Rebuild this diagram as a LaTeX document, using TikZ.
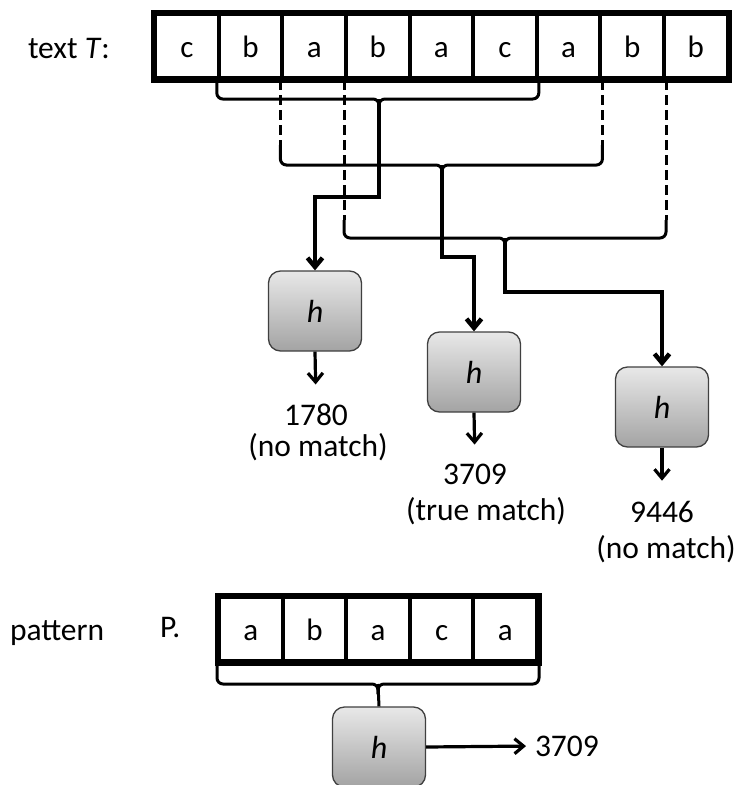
\documentclass[tikz,border=0pt]{standalone}
\usepackage{fontspec}
\setmainfont{Carlito}
\usetikzlibrary{arrows.meta,calc}
\begin{document}
\begin{tikzpicture}[x=1pt,y=-1pt,
  cell/.style={draw, line width=4pt, minimum width=63.6pt, minimum height=64pt, inner sep=0pt,
    text height=23pt, text depth=0pt, font=\fontsize{31}{34}\selectfont},
  hbox/.style={draw=black!75, line width=1.3pt, rounded corners=12pt, minimum width=93pt,
    minimum height=80pt, top color=gray!18, bottom color=gray!72,
    font=\fontsize{32}{34}\selectfont\itshape},
  brace/.style={line width=3pt, rounded corners=6pt},
  dashline/.style={line width=3pt, dash pattern=on 10pt off 5pt},
  feed/.style={line width=4.5pt, -{Straight Barb[length=9pt,width=15pt]}},
  outarr/.style={line width=3.2pt, -{Straight Barb[length=9pt,width=15pt]}},
  lbl/.style={inner sep=0pt, outer sep=0pt, font=\fontsize{31.5}{34}\selectfont}
]
\useasboundingbox (0,0) rectangle (743,785);

% text T
\node[lbl, anchor=base west] (tl) at (28,58) {text \textit{T}:};
\foreach \c [count=\i from 0] in {c,b,a,b,a,c,a,b,b}
  \node[cell] (t\i) at ({187+63.6*\i},46) {\c};
\draw[line width=5pt] (t0.north west) rectangle (t8.south east);

% brace 1 (cells 1-5)
\coordinate (b1) at (379,99);
\draw[brace] (t1.south west) |- (b1) -- ++(0,10);
\draw[brace] (t5.south east) |- (b1) -- ++(0,10);

% brace 2 (cells 2-6)
\coordinate (b2) at (442,165);
\coordinate (d2l) at ($(t2.south west)+(0,65)$);
\coordinate (d2r) at ($(t6.south east)+(0,65)$);
\draw[dashline] (t2.south west) -- (d2l);
\draw[dashline] (t6.south east) -- (d2r);
\draw[brace] (d2l) |- (b2) -- ++(0,10);
\draw[brace] (d2r) |- (b2) -- ++(0,10);

% brace 3 (cells 3-7)
\coordinate (b3) at (505,238);
\coordinate (d3l) at ($(t3.south west)+(0,140)$);
\coordinate (d3r) at ($(t7.south east)+(0,140)$);
\draw[dashline] (t3.south west) -- (d3l);
\draw[dashline] (t7.south east) -- (d3r);
\draw[brace] (d3l) |- (b3) -- ++(0,10);
\draw[brace] (d3r) |- (b3) -- ++(0,10);

% hash boxes
\node[hbox] (h1) at (315,311) {h};
\node[hbox] (h2) at (474,372) {h};
\node[hbox] (h3) at (662,407) {h};

% feeds
\draw[feed] (b1) -- ++(0,98) -| (h1.north);
\draw[feed] (b2) -- ++(0,92) -| (h2.north);
\draw[feed] (b3) -- ++(0,54) -| (h3.north);

% results
\node[lbl, anchor=base] (n1) at (316,425) {1780};
\node[lbl, anchor=base] (l1) at (318,456) {(no match)};
\node[lbl, anchor=base] (n2) at (475,484) {3709};
\node[lbl, anchor=base] (l2) at (486,520) {(true match)};
\node[lbl, anchor=base] (n3) at (662,522) {9446};
\node[lbl, anchor=base] (l3) at (666,558) {(no match)};

\draw[outarr, shorten >=19pt] (h1.south) -- (n1.north);
\draw[outarr, shorten >=19pt] (h2.south) -- (n2.north);
\draw[outarr, shorten >=20pt] (h3.south) -- (n3.north);

% pattern
\node[lbl, anchor=base west] (pl) at (10,640) {pattern};
\node[lbl, anchor=base west] (pp) at (160,637) {P.};
\foreach \c [count=\i from 0] in {a,b,a,c,a}
  \node[cell] (p\i) at ({250.8+63.6*\i},629) {\c};
\draw[line width=5pt] (p0.north west) rectangle (p4.south east);

\coordinate (b4) at (378,684);
\draw[brace] (p0.south west) |- (b4) -- ++(0,10);
\draw[brace] (p4.south east) |- (b4) -- ++(0,10);

\node[hbox] (h4) at (379,747) {h};
\draw[line width=3pt] (b4) -- (h4.north);

\node[lbl, anchor=west] (r4) at (535,746) {3709};
\draw[outarr, shorten >=9pt] (h4.east) -- (r4.west);
\end{tikzpicture}
\end{document}
